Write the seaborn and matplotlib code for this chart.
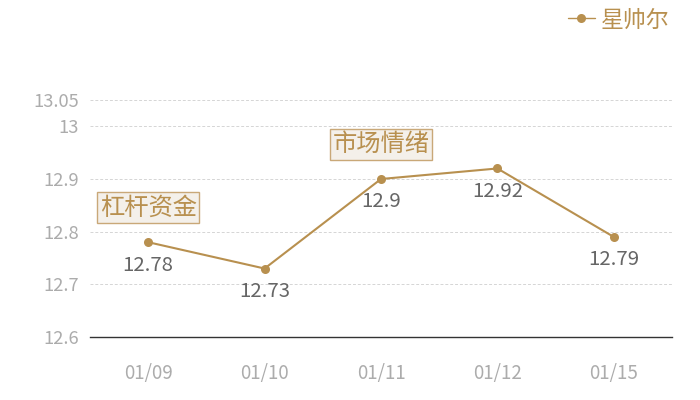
import matplotlib
matplotlib.use("Agg")
import matplotlib.pyplot as plt
import seaborn as sns
import pandas as pd

dates = ["01/09", "01/10", "01/11", "01/12", "01/15"]
values = [12.78, 12.73, 12.90, 12.92, 12.79]
series_name = "星帅尔"
yticks = [12.6, 12.7, 12.8, 12.9, 13.0, 13.05]
ytick_labels = ["12.6", "12.7", "12.8", "12.9", "13", "13.05"]
notes = {0: "杠杆资金", 2: "市场情绪"}

sns.set_theme(style="white")
plt.rcParams['font.family'] = ['Noto Sans CJK SC', 'DejaVu Sans']

gold = "#b8904f"
df = pd.DataFrame({"date": dates, "value": values, "name": series_name})

fig = plt.figure(figsize=(7, 4), dpi=100)
ax = fig.add_axes([90/700, 63/400, 582/700, 237/400])
sns.lineplot(data=df, x="date", y="value", hue="name", palette=[gold],
             marker="o", markersize=6.5, markeredgewidth=0, linewidth=1.5,
             sort=False, ax=ax)

ax.set_xlim(-0.5, 4.5)
ax.set_ylim(12.6, 13.05)
ax.set_yticks(yticks)
ax.set_yticklabels(ytick_labels)
ax.set_xlabel("")
ax.set_ylabel("")
for s in ["top", "right", "left"]:
    ax.spines[s].set_visible(False)
ax.spines["bottom"].set_color("#333333")
ax.spines["bottom"].set_linewidth(1)
ax.tick_params(axis="y", length=0, pad=8, labelsize=13.2, labelcolor="#acacac")
ax.tick_params(axis="x", length=0, pad=19, labelsize=13.5, labelcolor="#acacac")
for y in yticks[1:]:
    ax.axhline(y, color="#d5d5d5", linestyle=(0, (3, 2)), linewidth=0.7, zorder=0)

for i, v in enumerate(values):
    ax.annotate(f"{v:g}", (i, v), xytext=(0, -16.5), textcoords="offset points",
                ha="center", va="center", fontsize=14.7, color="#666666")
for i, t in notes.items():
    ax.annotate(t, (i, values[i]), xytext=(0, 25), textcoords="offset points",
                ha="center", va="center", fontsize=17.5, color=gold,
                bbox=dict(boxstyle="square,pad=0.1", fc="#f4f0ea", ec="#c9a878", lw=1))

leg = ax.legend(loc="center right", bbox_to_anchor=(681/700, 380/400),
                bbox_transform=fig.transFigure, frameon=False, fontsize=16.5,
                handlelength=1.2, handletextpad=0.25, borderpad=0)
for txt in leg.get_texts():
    txt.set_color(gold)
for h in leg.get_lines():
    h.set_linewidth(1.0)

fig.savefig("out.png", dpi=100)
